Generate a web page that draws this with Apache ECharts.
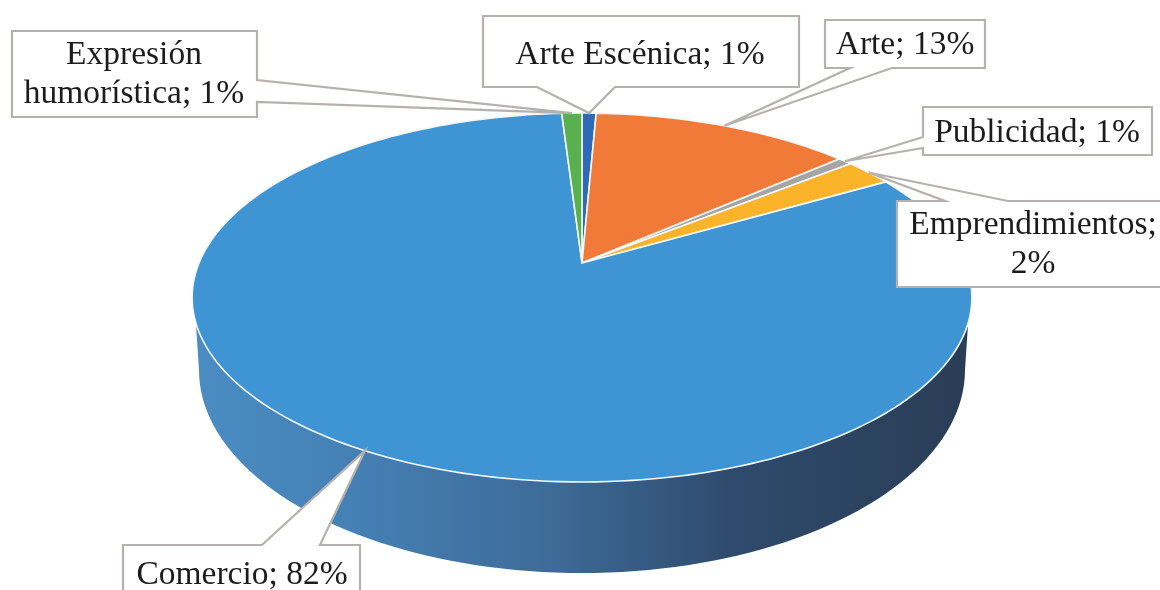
<!DOCTYPE html>
<html><head><meta charset="utf-8">
<style>html,body{margin:0;padding:0;background:#fff}#c{width:1160px;height:590px;filter:blur(0.45px)}</style>
<script src="https://cdn.jsdelivr.net/npm/echarts@6/dist/echarts.min.js"></script>
</head><body><div id="c"></div>
<script>
// ---- data ----
const categories = ['Arte Escénica','Arte','Publicidad','Emprendimientos','Comercio','Expresión humorística'];
const sliceValues = [0.7,12.9,0.7,2.4,82.3,1.0];
const printedPercents = [1,13,1,2,82,1];               // percentages printed in the labels
const labelLines = [
  ['Arte Escénica; 1%'],['Arte; 13%'],['Publicidad; 1%'],
  ['Emprendimientos;','2%'],['Comercio; 82%'],['Expresión','humorística; 1%']
];
// ---- styles and layout ----
const sliceColors = ['#2F69B9','#F27A39','#A5A5A5','#FBB329','#3F94D3','#59B04F'];
const P = {ax:582, ay:263, fx:383, fy:178, persp:0.187};          // tilted disc projection
const WALL = {from:108.5, to:251.5, cx:582, cy:370, rx:383, ry:203}; // visible rim side
const callouts = [
  {box:[483,16,799,87],  side:'bottom', base:[615,537]},
  {box:[825,20,985,68],  side:'bottom', base:[892,850]},
  {box:[923,107,1152,155],side:'left',  base:[148,137]},
  {box:[897,201,1175,287],side:'top',   base:[945,1008]},
  {box:[123,545,360,620],side:'top',    base:[262,320]},
  {box:[12,31,257,117],  side:'right',  base:[80,102]}
];
const textCenters = [[640,55],[905,45],[1037,133],[1033,245],[242,575],[134,75]];

function rim(deg){
  const t=deg*Math.PI/180, u=Math.sin(t), v=-Math.cos(t), w=1-P.persp*v;
  return [P.ax+P.fx*u/w, P.ay+P.fy*v/w];
}
const total = sliceValues.reduce((a,b)=>a+b,0);
const cumulative = []; sliceValues.reduce((s,v,i)=>(cumulative[i]=s,s+v),0);

function renderSlice(params, api){
  const i=params.dataIndex, start=api.value(2)/total*360, end=start+api.value(1)/total*360;
  const pts=[[P.ax,P.ay]];
  const n=Math.max(4,Math.ceil((end-start)/1.5));
  for(let k=0;k<=n;k++) pts.push(rim(start+(end-start)*k/n));
  const kids=[];
  const a=Math.max(start,WALL.from), b=Math.min(end,WALL.to);
  if(b>a){
    const w=[];
    for(let k=0;k<=90;k++) w.push(rim(a+(b-a)*k/90));
    for(let k=90;k>=0;k--){const t=Math.PI*k/90; w.push([WALL.cx+WALL.rx*Math.cos(t)*(k<90&&k>0?1:1),WALL.cy+WALL.ry*Math.sin(t)]);}
    kids.push({type:'polygon',shape:{points:w},style:{fill:{type:'linear',x:0,y:0,x2:1,y2:0,colorStops:[
      {offset:0,color:'#4A8DC3'},{offset:0.22,color:'#447FB3'},{offset:0.45,color:'#3E6C99'},
      {offset:0.7,color:'#2E4A6C'},{offset:1,color:'#2A3D56'}]}}});
  }
  kids.push({type:'polygon',shape:{points:pts},style:{fill:sliceColors[i],stroke:'#F4F8FB',lineWidth:1.6,lineJoin:'round'}});
  return {type:'group',children:kids};
}
function renderCallout(params, api){
  const i=params.dataIndex, c=callouts[i], [x0,y0,x1,y1]=c.box;
  const mid=(api.value(2)+api.value(1)/2)/total*360, tip=rim(mid), [b0,b1]=c.base;
  const pts=[[x0,y0]];
  if(c.side==='top') pts.push([b0,y0],tip,[b1,y0]);
  pts.push([x1,y0]);
  if(c.side==='right') pts.push([x1,b0],tip,[x1,b1]);
  pts.push([x1,y1]);
  if(c.side==='bottom') pts.push([b0,y1],tip,[b1,y1]);
  pts.push([x0,y1]);
  if(c.side==='left') pts.push([x0,b0],tip,[x0,b1]);
  const [tx,ty]=textCenters[i];
  return {type:'group',children:[
    {type:'polygon',shape:{points:pts},style:{fill:'#fff',stroke:'#B5B1AE',lineWidth:2.2,lineJoin:'miter'}},
    {type:'text',style:{x:tx,y:ty,text:labelLines[i].join('\n'),align:'center',verticalAlign:'middle',
      font:'33.5px "Liberation Serif"',lineHeight:39,fill:'#1c1c1c'}}
  ]};
}
const rows = categories.map((n,i)=>[n,sliceValues[i],cumulative[i],printedPercents[i]]);
const chart = echarts.init(document.getElementById('c'),null,{renderer:'canvas'});
chart.setOption({
  animation:false, backgroundColor:'#fff',
  series:[
    {type:'custom',coordinateSystem:'none',name:'Sectores',data:rows,renderItem:renderSlice,z:2,silent:true},
    {type:'custom',coordinateSystem:'none',name:'Etiquetas',data:rows,renderItem:renderCallout,z:3,silent:true}
  ]
});
</script></body></html>
